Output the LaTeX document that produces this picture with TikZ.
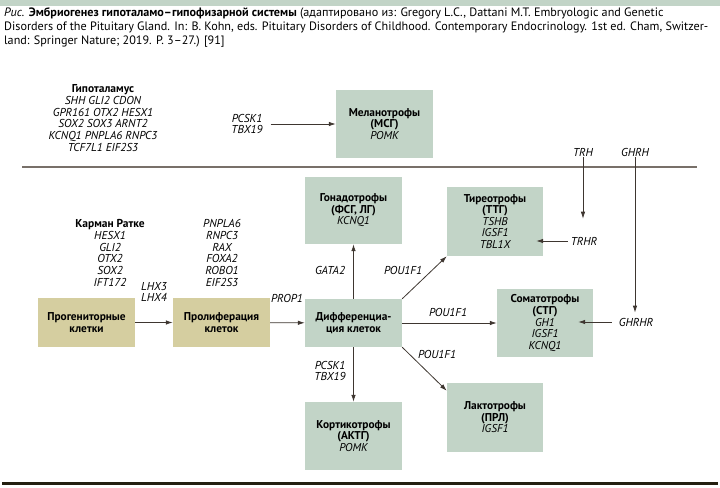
\documentclass[tikz,border=0pt]{standalone}
\usepackage{fontspec}
\setmainfont{PT Sans}
\usetikzlibrary{arrows.meta,positioning}

\definecolor{boxgreen}{RGB}{194,212,199}
\definecolor{boxtan}{RGB}{213,206,160}
\definecolor{arrowgray}{RGB}{62,54,48}
\definecolor{rulegray}{RGB}{120,112,105}
\definecolor{ruledark}{RGB}{35,31,16}

\newcommand{\gn}[1]{{\mdseries\itshape #1}}

\begin{document}
\begin{tikzpicture}[
        x=1bp, y=-1bp,
        cell/.style={fill=boxgreen, minimum width=97bp, minimum height=68bp,
            align=center, inner sep=1bp, font=\fontsize{11.4}{11.6}\selectfont\bfseries},
        stage/.style={cell, fill=boxtan, minimum height=49bp},
        genes/.style={align=center, inner sep=1bp, font=\fontsize{11.5}{11.9}\selectfont\itshape},
        arr/.style={-{Latex[length=7bp,width=4.5bp]}, line width=0.8bp, arrowgray}
    ]
        \useasboundingbox (0,0) rectangle (720,488);

        % Header bar and caption
        \fill[boxgreen] (0,0) rectangle (720,6);
        \node[anchor=north west, align=left, inner sep=0pt,
            font=\fontsize{12.2}{14.5}\selectfont] (caption) at (4,7)
            {\textit{Рис.} \textbf{Эмбриогенез гипоталамо–гипофизарной системы} (адаптировано из: Gregory L.C., Dattani M.T. Embryologic and Genetic\\
            Disorders of the Pituitary Gland. In: B. Kohn, eds. Pituitary Disorders of Childhood. Contemporary Endocrinology. 1st ed. Cham, Switzer-\\
            land: Springer Nature; 2019. P. 3–27.) [91]};

        % Hypothalamus part
        \node[genes] (hypo) at (103,118)
            {\textbf{\upshape Гипоталамус}\\SHH GLI2 CDON\\GPR161 OTX2 HESX1\\SOX2 SOX3 ARNT2\\KCNQ1 PNPLA6 RNPC3\\TCF7L1 EIF2S3};
        \node[genes] (pcsktop) at (247,124) {PCSK1\\TBX19};
        \node[cell] (melano) at (384.5,124) {Меланотрофы\\(МСГ)\\\gn{POMK}};
        \draw[arr, shorten <=7bp] (pcsktop.east) -- (melano.west);

        \draw[line width=1.3bp, rulegray] (22,167) -- (697,167);

        % Pituitary part
        \node[genes] (ratke) at (110,253)
            {\textbf{\upshape Карман Ратке}\\HESX1\\GLI2\\OTX2\\SOX2\\IFT172};
        \node[genes] (prolgenes) at (222,253) {PNPLA6\\RNPC3\\RAX\\FOXA2\\ROBO1\\EIF2S3};
        \node[stage] (progen) at (86.5,322.5) {Прогениторные\\клетки};
        \node[stage] (prolif) at (221.5,322.5) {Пролиферация\\клеток};
        \node[cell, minimum height=48bp] (diff) at (353.5,323) {Дифференциа-\\ция клеток};
        \node[cell, minimum height=67bp] (gonado) at (353.5,210.5) {Гонадотрофы\\(ФСГ, ЛГ)\\\gn{KCNQ1}};
        \node[cell, minimum width=96bp, minimum height=69bp] (tireo) at (495,221.5)
            {Тиреотрофы\\(ТТГ)\\\gn{TSHB}\\\gn{IGSF1}\\\gn{TBL1X}};
        \node[cell, minimum width=96bp] (somato) at (545,323)
            {Соматотрофы\\(СТГ)\\\gn{GH1}\\\gn{IGSF1}\\\gn{KCNQ1}};
        \node[cell, minimum width=96bp, minimum height=69bp] (lakto) at (495,417.5)
            {Лактотрофы\\(ПРЛ)\\\gn{IGSF1}};
        \node[cell] (korti) at (353.5,436) {Кортикотрофы\\(АКТГ)\\\gn{POMK}};

        \node[genes] (lhx) at (154,292) {LHX3\\LHX4};
        \node[genes] (prop) at (287,298) {PROP1};
        \node[genes] (gata) at (330,270) {GATA2};
        \node[genes] (poutireo) at (403,270) {POU1F1};
        \node[genes] (pousomato) at (448,312) {POU1F1};
        \node[genes] (poulakto) at (437,354) {POU1F1};
        \node[genes] (pcskbot) at (330,371) {PCSK1\\TBX19};

        \node[genes] (trh) at (583,152) {TRH};
        \node[genes] (ghrh) at (635,152) {GHRH};
        \node[genes] (trhr) at (584,241) {TRHR};
        \node[genes] (ghrhr) at (636,322) {GHRHR};

        % Connectors
        \draw[arr] (progen) -- (prolif);
        \draw[arr] (prolif) -- (diff);
        \draw[arr] (diff) -- (gonado);
        \draw[arr] (diff.north east) -- (tireo.south west);
        \draw[arr] (diff) -- (somato);
        \draw[arr] (diff.south east) -- ([yshift=-8bp]lakto.north west);
        \draw[arr] (diff) -- (korti);
        \draw[arr, shorten >=17bp] (trh.south) -- (trh.south |- trhr.north);
        \draw[arr, shorten >=4bp] (ghrh.south) -- (ghrh.south |- ghrhr.north);
        \draw[arr, shorten <=2bp] (trhr.west) -- ([xshift=-7bp]tireo.east |- trhr.west);
        \draw[arr, shorten <=6bp] (ghrhr.west) -- ([xshift=-15bp]somato.east |- ghrhr.west);

        \draw[line width=3bp, ruledark] (2,483) -- (718,483);
    \end{tikzpicture}
\end{document}
